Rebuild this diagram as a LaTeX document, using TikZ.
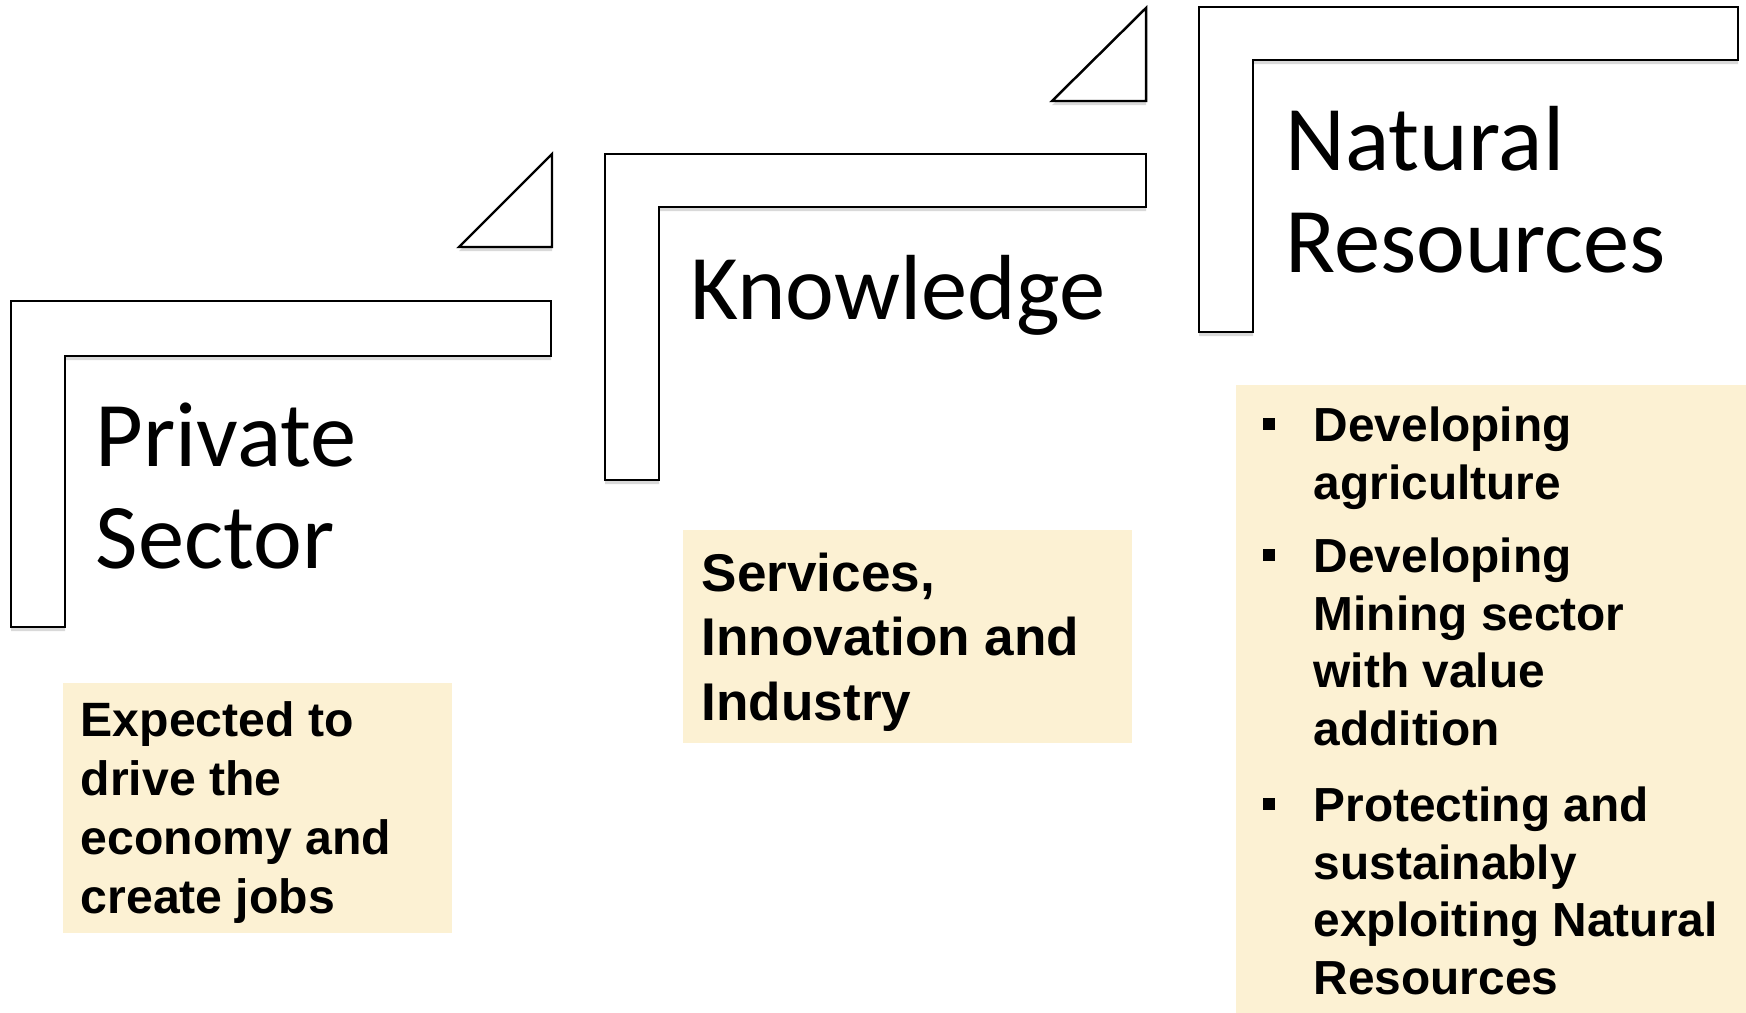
\documentclass[tikz,border=0pt]{standalone}
\usepackage{fontspec}
\setmainfont{Liberation Sans}
\newfontfamily\headfont{Carlito}
\usepackage{tikz}
\usetikzlibrary{shadows}
\definecolor{notefill}{RGB}{252,241,211}

\begin{document}
\begin{tikzpicture}[
    x=0.01cm, y=-0.01cm,
    stepshape/.style={draw=black, line width=0.7pt, fill=white, drop shadow={shadow xshift=0pt, shadow yshift=-1.2pt, opacity=0.3}},
    heading/.style={anchor=north west, inner sep=0pt, align=left, font=\headfont\fontsize{26.3}{29}\selectfont},
    notetext/.style={anchor=north west, inner sep=0pt, align=left},
    bul/.style={rectangle, fill=black, inner sep=0pt, minimum size=3.3pt}
]
    \useasboundingbox (0,0) rectangle (1746,1013);

    % Yellow notes
    \fill[notefill] (63,683) rectangle (452,933);
    \fill[notefill] (683,530) rectangle (1132,743);
    \fill[notefill] (1236,385) rectangle (1746,1013);

    % Steps
    \draw[stepshape] (11,301) -- (551,301) -- (551,356) -- (65,356) -- (65,627) -- (11,627) -- cycle;
    \draw[stepshape] (459,247) -- (552,154) -- (552,247) -- cycle;
    \draw[stepshape] (605,154) -- (1146,154) -- (1146,207) -- (659,207) -- (659,480) -- (605,480) -- cycle;
    \draw[stepshape] (1052,101) -- (1146,8) -- (1146,101) -- cycle;
    \draw[stepshape] (1199,7) -- (1738,7) -- (1738,60) -- (1253,60) -- (1253,332) -- (1199,332) -- cycle;

    % Step titles
    \node[heading] (private) at (95,402) {Private\\Sector};
    \node[heading] (knowledge) at (690,255) {Knowledge};
    \node[heading] (natural) at (1285,106) {Natural\\Resources};

    % Note texts
    \node[notetext, font=\bfseries\fontsize{13.7}{16.8}\selectfont] (expected) at (80,701) {Expected to\\drive the\\economy and\\create jobs};
    \node[notetext, font=\bfseries\fontsize{15.1}{18.35}\selectfont] (services) at (701,552) {Services,\\Innovation and\\Industry};

    \node[notetext, font=\bfseries\fontsize{13.6}{16.4}\selectfont] (agri) at (1313,406) {Developing\\agriculture};
    \node[notetext, font=\bfseries\fontsize{13.6}{16.4}\selectfont] (mining) at (1313,537) {Developing\\Mining sector\\with value\\addition};
    \node[notetext, font=\bfseries\fontsize{13.6}{16.4}\selectfont] (protect) at (1313,786) {Protecting and\\sustainably\\exploiting Natural\\Resources};
    \node[bul] (b1) at (1269,424) {};
    \node[bul] (b2) at (1269,555) {};
    \node[bul] (b3) at (1269,804) {};
\end{tikzpicture}
\end{document}
